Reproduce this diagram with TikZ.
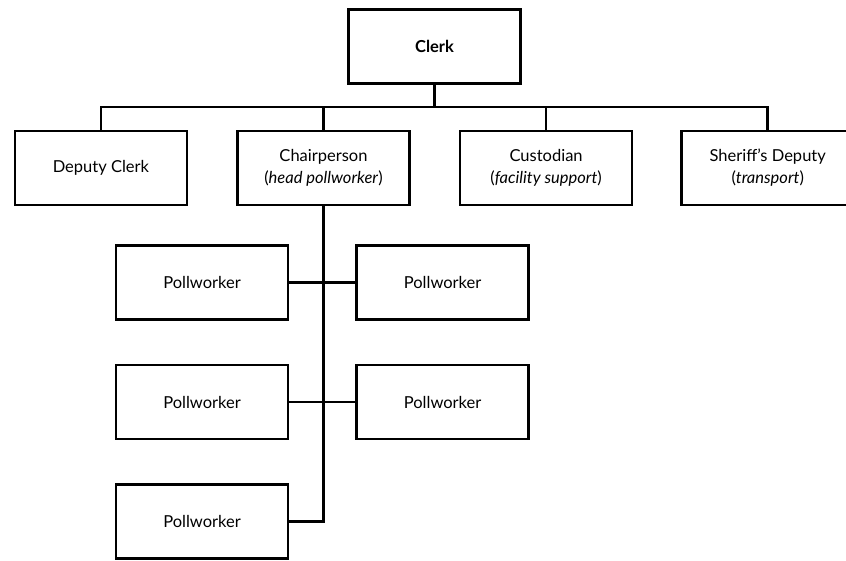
\documentclass[tikz,border=0pt]{standalone}
\usepackage{fontspec}
\setmainfont{Lato}
\usepackage{tikz}
\usetikzlibrary{positioning}
\tikzset{
  role/.style={rectangle, draw=black, line width=2.6pt, fill=white,
               minimum width=172pt, minimum height=74pt, align=center,
               inner sep=0pt, font=\fontsize{16.5}{22}\selectfont},
  link/.style={line width=2.6pt, draw=black},
}
\begin{document}
\begin{tikzpicture}[x=1pt, y=1pt]
  \clip (0,0) rectangle (846,-560);

  \node[role, font=\fontsize{16.5}{22}\selectfont\bfseries] (clerk) at (434.5,-46.5) {Clerk};
  \node[role] (chair) at (323.5,-168) {Chairperson\\(\textit{head pollworker})};
  \node[role, left=48pt of chair]  (deputy)  {Deputy Clerk};
  \node[role, right=48pt of chair] (cust)    {Custodian\\(\textit{facility support})};
  \node[role, right=47pt of cust]  (sheriff) {Sheriff’s Deputy\\(\textit{transport})};

  \node[role] (pw1) at (202,-282.5) {Pollworker};
  \node[role, right=66pt of pw1] (pw2) {Pollworker};
  \node[role, below=43pt of pw1] (pw3) {Pollworker};
  \node[role, right=66pt of pw3] (pw4) {Pollworker};
  \node[role, below=43pt of pw3] (pw5) {Pollworker};

  % bus under the clerk
  \coordinate (bus) at (434.5,-107);
  \draw[link] (clerk) -- (bus);
  \foreach \n in {deputy, chair, cust, sheriff}
    \draw[link] (\n.north) |- (bus);

  % pollworker trunk
  \draw[link] (chair.south) |- (pw5.east);
  \draw[link] (pw1.east) -- (pw2.west);
  \draw[link] (pw3.east) -- (pw4.west);
\end{tikzpicture}
\end{document}
